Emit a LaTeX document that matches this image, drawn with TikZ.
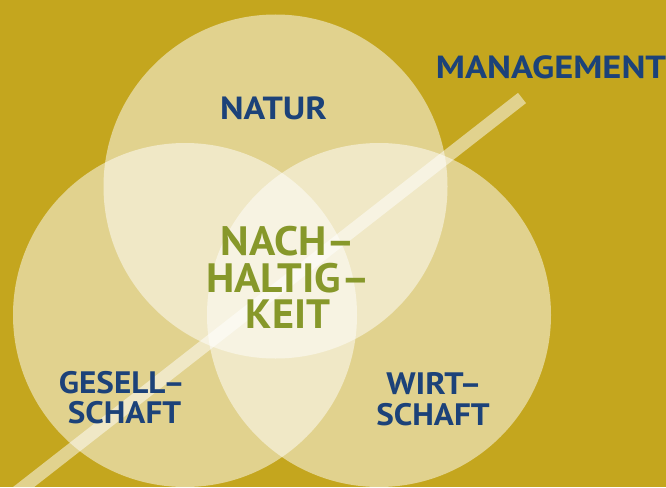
\documentclass[tikz,border=0pt]{standalone}
\usepackage{fontspec}
\setmainfont{PT Sans}
\definecolor{bg}{HTML}{C4A61E}
\definecolor{navy}{HTML}{1C4279}
\definecolor{olive}{HTML}{87982A}
\newcommand\widen[2]{\scalebox{#1}[1]{#2}}
\begin{document}
\begin{tikzpicture}[x=1pt,y=-1pt,
  venn/.style={circle,inner sep=0pt,minimum size=344pt,fill=white,fill opacity=0.5},
  lbl/.style={font=\bfseries\fontsize{31}{31}\selectfont,text=navy,anchor=base,inner sep=0pt},
  big/.style={font=\bfseries\fontsize{32}{32}\selectfont,text=navy,anchor=base,inner sep=0pt},
  core/.style={font=\bfseries\fontsize{41}{36.5}\selectfont,text=olive,anchor=north,inner sep=0pt,align=center},
  barline/.style={draw=white,draw opacity=0.5,line width=13pt}]
\fill[bg] (0,0) rectangle (666,487);
\useasboundingbox (0,0) rectangle (666,487);
\node[venn] (natur) at (275.5,186.5) {};
\node[venn] (ges) at (185,315) {};
\node[venn] (wirt) at (379,315) {};
\coordinate (mstart) at (-2,507);
\coordinate (mend) at (522,98);
\draw[barline] (mstart) -- (mend);
\node[big] (tnatur) at (273.5,119) {\widen{1.12}{NATUR}};
\node[big] (tman) at (551,78) {\widen{1.14}{MANAGEMENT}};
\node[lbl] (tges1) at (122,393) {\widen{1.07}{GESELL–}};
\node[lbl] (tges2) at (124.5,423) {\widen{1.07}{SCHAFT}};
\node[lbl] (twirt1) at (434,394) {\widen{1.1}{WIRT–}};
\node[lbl] (twirt2) at (433,425) {\widen{1.07}{SCHAFT}};
\node[core] (core) at (288,226.5) {\widen{1.06}{NACH–}\\\widen{1.06}{HALTIG–}\\\widen{1.03}{KEIT}};
\end{tikzpicture}
\end{document}
